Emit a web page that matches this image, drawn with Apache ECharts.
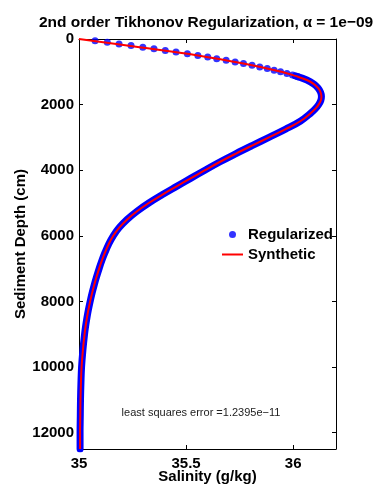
<!DOCTYPE html>
<html>
<head>
<meta charset="utf-8">
<script src="https://cdn.jsdelivr.net/npm/echarts@6/dist/echarts.min.js"></script>
<style>
  html, body { margin: 0; padding: 0; background: #fff; }
  #chart { width: 377px; height: 485px; }
</style>
</head>
<body>
<div id="chart"></div>
<script>
// regularized solution near the surface: separate dots every 50 cm
const dotDepth = [50, 100, 150, 200, 250, 300, 350, 400, 450, 500, 550, 600,
  650, 700, 750, 800, 850, 900, 950, 1000, 1050, 1100, 1150];
const dotSal = [35.075, 35.132, 35.187, 35.243, 35.298, 35.350, 35.403, 35.453,
  35.506, 35.555, 35.601, 35.643, 35.687, 35.729, 35.768, 35.808, 35.844,
  35.879, 35.911, 35.941, 35.971, 35.997, 36.022];

// synthetic profile (red line); deeper regularized dots sit on top of it
const curveDepth = [0, 250, 500, 750, 1000, 1125, 1250, 1375, 1500, 1625, 1750,
  1875, 2000, 2125, 2250, 2500, 2750, 3000, 3250, 3500, 3750, 4000, 4250, 4500,
  4750, 5000, 5250, 5500, 5750, 6000, 6250, 6500, 6750, 7000, 7250, 7500, 7750,
  8000, 8250, 8500, 8750, 9000, 9500, 10000, 10500, 11000, 11500, 12000, 12500];
const curveSal = [35.000, 35.283, 35.555, 35.768, 35.945, 36.010, 36.064, 36.097,
  36.117, 36.128, 36.132, 36.129, 36.119, 36.104, 36.084, 36.035, 35.965, 35.887,
  35.808, 35.731, 35.657, 35.588, 35.521, 35.454, 35.388, 35.326, 35.271, 35.225,
  35.188, 35.160, 35.139, 35.122, 35.107, 35.094, 35.082, 35.071, 35.061, 35.052,
  35.044, 35.037, 35.031, 35.026, 35.018, 35.012, 35.009, 35.007, 35.006, 35.005,
  35.005];

const xTicks = [35, 35.5, 36];
const yTicks = [0, 2000, 4000, 6000, 8000, 10000, 12000];
const bandStart = 1125; // below this depth the dots merge into a band

const font = 'Liberation Sans, Arial, Helvetica, sans-serif';
const chart = echarts.init(document.getElementById('chart'));

const dots = dotDepth.map((d, i) => [dotSal[i], d]);
const curve = curveDepth.map((d, i) => [curveSal[i], d]);
const band = curve.filter((p) => p[1] >= bandStart);

const axisBase = {
  type: 'value',
  axisLine: { show: true, onZero: false, lineStyle: { color: '#000', width: 1 } },
  axisTick: { show: true, inside: true, length: 4, lineStyle: { color: '#000' } },
  splitLine: { show: false },
};

chart.setOption({
  animation: false,
  backgroundColor: '#fff',
  title: [
    {
      text: '{b|2nd order Tikhonov Regularization, }{a|α}{b| = 1e−09}',
      left: 201,
      top: 10,
      textAlign: 'center',
      textStyle: {
        rich: {
          b: { fontFamily: font, fontWeight: 'bold', fontSize: 15.5, color: '#000' },
          a: { fontFamily: 'Liberation Serif, serif', fontSize: 16, color: '#000' },
        },
      },
    },
    {
      text: 'least squares error =1.2395e−11',
      left: 196,
      top: 402,
      textAlign: 'center',
      textStyle: { fontFamily: font, fontWeight: 'normal', fontSize: 11, color: '#222' },
    },
  ],
  legend: {
    orient: 'vertical',
    left: 216,
    top: 222,
    itemWidth: 21,
    itemHeight: 7,
    itemGap: 5,
    data: [
      { name: 'Regularized' },
      { name: 'Synthetic', itemStyle: { opacity: 0 } },
    ],
    textStyle: { fontFamily: font, fontWeight: 'bold', fontSize: 15, color: '#000' },
  },
  grid: { left: 79, right: 41, top: 39, bottom: 36, outerBoundsMode: 'none' },
  xAxis: [
    {
      ...axisBase,
      position: 'bottom',
      min: 35,
      max: 36.2,
      interval: 0.5,
      name: 'Salinity (g/kg)',
      nameLocation: 'middle',
      nameGap: 20,
      nameMoveOverlap: false,
      nameTextStyle: { fontFamily: font, fontWeight: 'bold', fontSize: 15, color: '#000', verticalAlign: 'top' },
      axisLabel: {
        margin: 7,
        fontFamily: font, fontWeight: 'bold', fontSize: 15, color: '#000',
        formatter: (v) => (xTicks.includes(v) ? String(v) : ''),
      },
    },
    {
      ...axisBase,
      position: 'top',
      min: 35,
      max: 36.2,
      interval: 0.5,
      axisLabel: { show: false },
    },
  ],
  yAxis: [
    {
      ...axisBase,
      position: 'left',
      inverse: true,
      min: 0,
      max: 12500,
      interval: 2000,
      name: 'Sediment Depth (cm)',
      nameLocation: 'middle',
      nameGap: 51,
      nameMoveOverlap: false,
      nameTextStyle: { fontFamily: font, fontWeight: 'bold', fontSize: 15, color: '#000' },
      axisLabel: {
        margin: 5,
        fontFamily: font, fontWeight: 'bold', fontSize: 15, color: '#000',
        formatter: (v) => (yTicks.includes(v) ? String(v) : ''),
      },
    },
    {
      ...axisBase,
      position: 'right',
      inverse: true,
      min: 0,
      max: 12500,
      interval: 2000,
      axisLabel: { show: false },
    },
  ],
  series: [
    {
      name: 'Regularized',
      type: 'scatter',
      data: dots,
      symbol: 'circle',
      symbolSize: 7,
      itemStyle: { color: '#0000ff' },
      z: 2,
    },
    {
      name: 'Regularized',
      type: 'line',
      data: band,
      symbol: 'none',
      smooth: 0.4,
      lineStyle: { color: '#0000ff', width: 7, cap: 'round', join: 'round' },
      itemStyle: { color: '#0000ff' },
      z: 2,
    },
    {
      name: 'Synthetic',
      type: 'line',
      data: curve,
      symbol: 'none',
      smooth: 0.4,
      lineStyle: { color: '#ff0000', width: 2 },
      itemStyle: { color: '#ff0000' },
      z: 3,
    },
  ],
});
</script>
</body>
</html>
